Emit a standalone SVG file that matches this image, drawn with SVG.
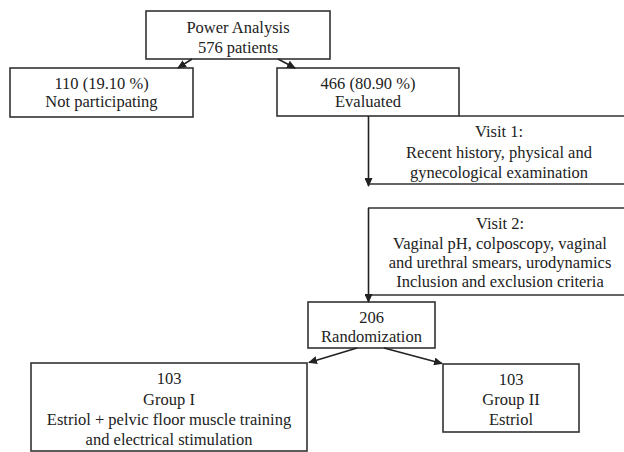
<svg xmlns="http://www.w3.org/2000/svg" width="624" height="452" viewBox="0 0 624 452">
<style>
  .box { fill: #fff; stroke: #333; stroke-width: 1.6; }
  .open { fill: none; stroke: #333; stroke-width: 1.6; }
  .t { font-family: "Liberation Serif", "Times New Roman", serif; font-size: 16.5px; fill: #222; text-anchor: middle; }
  .c { fill: none; stroke: #222; stroke-width: 1.6; marker-end: url(#ah); }
</style>
<defs>
  <marker id="ah" markerWidth="9" markerHeight="8" refX="8" refY="4" orient="auto" markerUnits="userSpaceOnUse">
    <path d="M0,0 L9,4 L0,8 Z" fill="#222"/>
  </marker>
</defs>
<rect width="624" height="452" fill="#fff"/>

<g id="power">
  <rect class="box" x="146" y="11" width="184" height="48"/>
  <text class="t" x="238" y="33">Power Analysis</text>
  <text class="t" x="238" y="52.5">576 patients</text>
</g>
<g id="notparticipating">
  <rect class="box" x="10" y="68" width="183" height="49"/>
  <text class="t" x="101.5" y="88.5">110 (19.10 %)</text>
  <text class="t" x="101.5" y="107">Not participating</text>
</g>
<g id="evaluated">
  <rect class="box" x="277" y="68" width="182" height="48"/>
  <text class="t" x="368" y="88.5">466 (80.90 %)</text>
  <text class="t" x="368" y="107">Evaluated</text>
</g>
<g id="visit1">
  <path class="open" d="M459,116 H624 M369,184 H624"/>
  <text class="t" x="499" y="137">Visit 1:</text>
  <text class="t" x="499" y="157.5">Recent history, physical and</text>
  <text class="t" x="499" y="177.5">gynecological examination</text>
</g>
<g id="visit2">
  <path class="open" d="M368,208 H624 M369,295 H624"/>
  <text class="t" x="500" y="228.5">Visit 2:</text>
  <text class="t" x="500" y="248.5">Vaginal pH, colposcopy, vaginal</text>
  <text class="t" x="500" y="267.5">and urethral smears, urodynamics</text>
  <text class="t" x="500" y="286.5">Inclusion and exclusion criteria</text>
</g>
<g id="randomization">
  <rect class="box" x="308" y="302" width="127" height="46"/>
  <text class="t" x="371.5" y="322.5">206</text>
  <text class="t" x="371.5" y="341.5">Randomization</text>
</g>
<g id="group1">
  <rect class="box" x="31" y="363" width="276" height="88"/>
  <text class="t" x="169" y="384">103</text>
  <text class="t" x="169" y="405">Group I</text>
  <text class="t" x="169" y="425">Estriol + pelvic floor muscle training</text>
  <text class="t" x="169" y="445">and electrical stimulation</text>
</g>
<g id="group2">
  <rect class="box" x="443" y="364" width="136" height="68"/>
  <text class="t" x="511" y="385">103</text>
  <text class="t" x="511" y="405">Group II</text>
  <text class="t" x="511" y="425">Estriol</text>
</g>

<g id="connectors">
  <line class="c" x1="192" y1="59" x2="178" y2="68"/>
  <line class="c" x1="278" y1="59" x2="295" y2="68"/>
  <line class="c" x1="368.5" y1="116" x2="368.5" y2="186"/>
  <line class="c" x1="368.5" y1="208" x2="368.5" y2="302"/>
  <line class="c" x1="357" y1="348" x2="309" y2="362.5"/>
  <line class="c" x1="384" y1="348" x2="442" y2="363.5"/>
</g>
</svg>
